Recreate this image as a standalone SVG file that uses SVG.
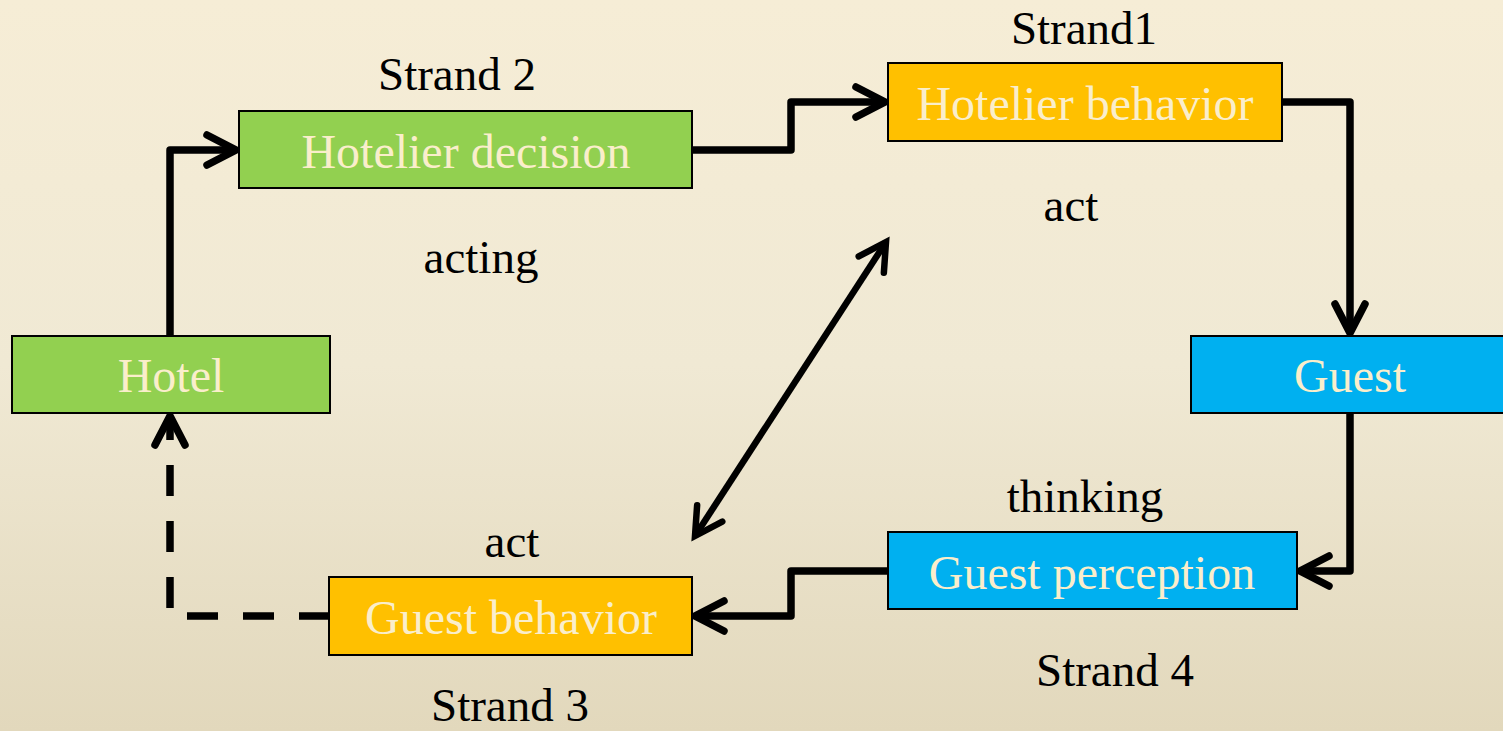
<svg xmlns="http://www.w3.org/2000/svg" width="1503" height="731" viewBox="0 0 1503 731">
<defs>
<linearGradient id="bg" x1="0" y1="0" x2="0" y2="1">
<stop offset="0" stop-color="#F6EDD6"/>
<stop offset="0.5" stop-color="#F0E9D4"/>
<stop offset="1" stop-color="#E2D8BC"/>
</linearGradient>
<marker id="arr" markerUnits="userSpaceOnUse" orient="auto-start-reverse" refX="0" refY="0" markerWidth="40" markerHeight="40" overflow="visible">
<path d="M-29,-15 L0,0 L-29,15" fill="none" stroke="#000" stroke-width="7.5" stroke-linecap="round" stroke-linejoin="miter" stroke-dasharray="none"/>
</marker>
<marker id="arr2" markerUnits="userSpaceOnUse" orient="auto-start-reverse" refX="0" refY="0" markerWidth="40" markerHeight="40" overflow="visible">
<path d="M-27,-15 L0,0 L-27,15" fill="none" stroke="#000" stroke-width="6.5" stroke-linecap="round" stroke-linejoin="miter" stroke-dasharray="none"/>
</marker>
</defs>
<style>
.box{stroke:#000;stroke-width:2}
.green{fill:#92D050}
.orange{fill:#FFC000}
.blue{fill:#00B0F0}
.lbl{font-family:"Liberation Serif","Times New Roman",serif;font-size:48px;fill:#FAEECB;text-anchor:middle}
.txt{font-family:"Liberation Serif","Times New Roman",serif;font-size:47px;fill:#000;text-anchor:middle}
.con{fill:none;stroke:#000;stroke-width:7.5;stroke-linejoin:round;marker-end:url(#arr)}
</style>
<rect x="0" y="0" width="1503" height="731" fill="url(#bg)"/>
<g id="connectors">
<path class="con" d="M170,336 V150 H236"/>
<path class="con" d="M692,150 H791 V102 H885"/>
<path class="con" d="M1282,102 H1350 V333"/>
<path class="con" d="M1350,413 V571 H1300"/>
<path class="con" d="M888,571 H791 V616 H695"/>
<path class="con" d="M330,616 H170 V416" stroke-dasharray="31 25"/>
<path d="M695,536 L886,242" fill="none" stroke="#000" stroke-width="6.5" marker-start="url(#arr2)" marker-end="url(#arr2)"/>
</g>
<g id="hotel">
<rect class="box green" x="12" y="336" width="318" height="77"/>
<text class="lbl" x="171" y="392">Hotel</text>
</g>
<g id="hotelier-decision">
<rect class="box green" x="239" y="111" width="453" height="77"/>
<text class="lbl" x="466" y="168">Hotelier decision</text>
</g>
<g id="hotelier-behavior">
<rect class="box orange" x="888" y="63" width="394" height="78"/>
<text class="lbl" x="1085" y="120">Hotelier behavior</text>
</g>
<g id="guest">
<rect class="box blue" x="1191" y="336" width="318" height="77"/>
<text class="lbl" x="1350" y="392">Guest</text>
</g>
<g id="guest-perception">
<rect class="box blue" x="888" y="532" width="409" height="77"/>
<text class="lbl" x="1092" y="589">Guest perception</text>
</g>
<g id="guest-behavior">
<rect class="box orange" x="329" y="577" width="363" height="78"/>
<text class="lbl" x="511" y="634">Guest behavior</text>
</g>
<g id="labels">
<text class="txt" x="457" y="90">Strand 2</text>
<text class="txt" x="1084" y="44">Strand1</text>
<text class="txt" x="1071" y="221">act</text>
<text class="txt" x="481" y="273">acting</text>
<text class="txt" x="1085" y="512">thinking</text>
<text class="txt" x="512" y="557">act</text>
<text class="txt" x="510" y="721">Strand 3</text>
<text class="txt" x="1115" y="686">Strand 4</text>
</g>
</svg>
